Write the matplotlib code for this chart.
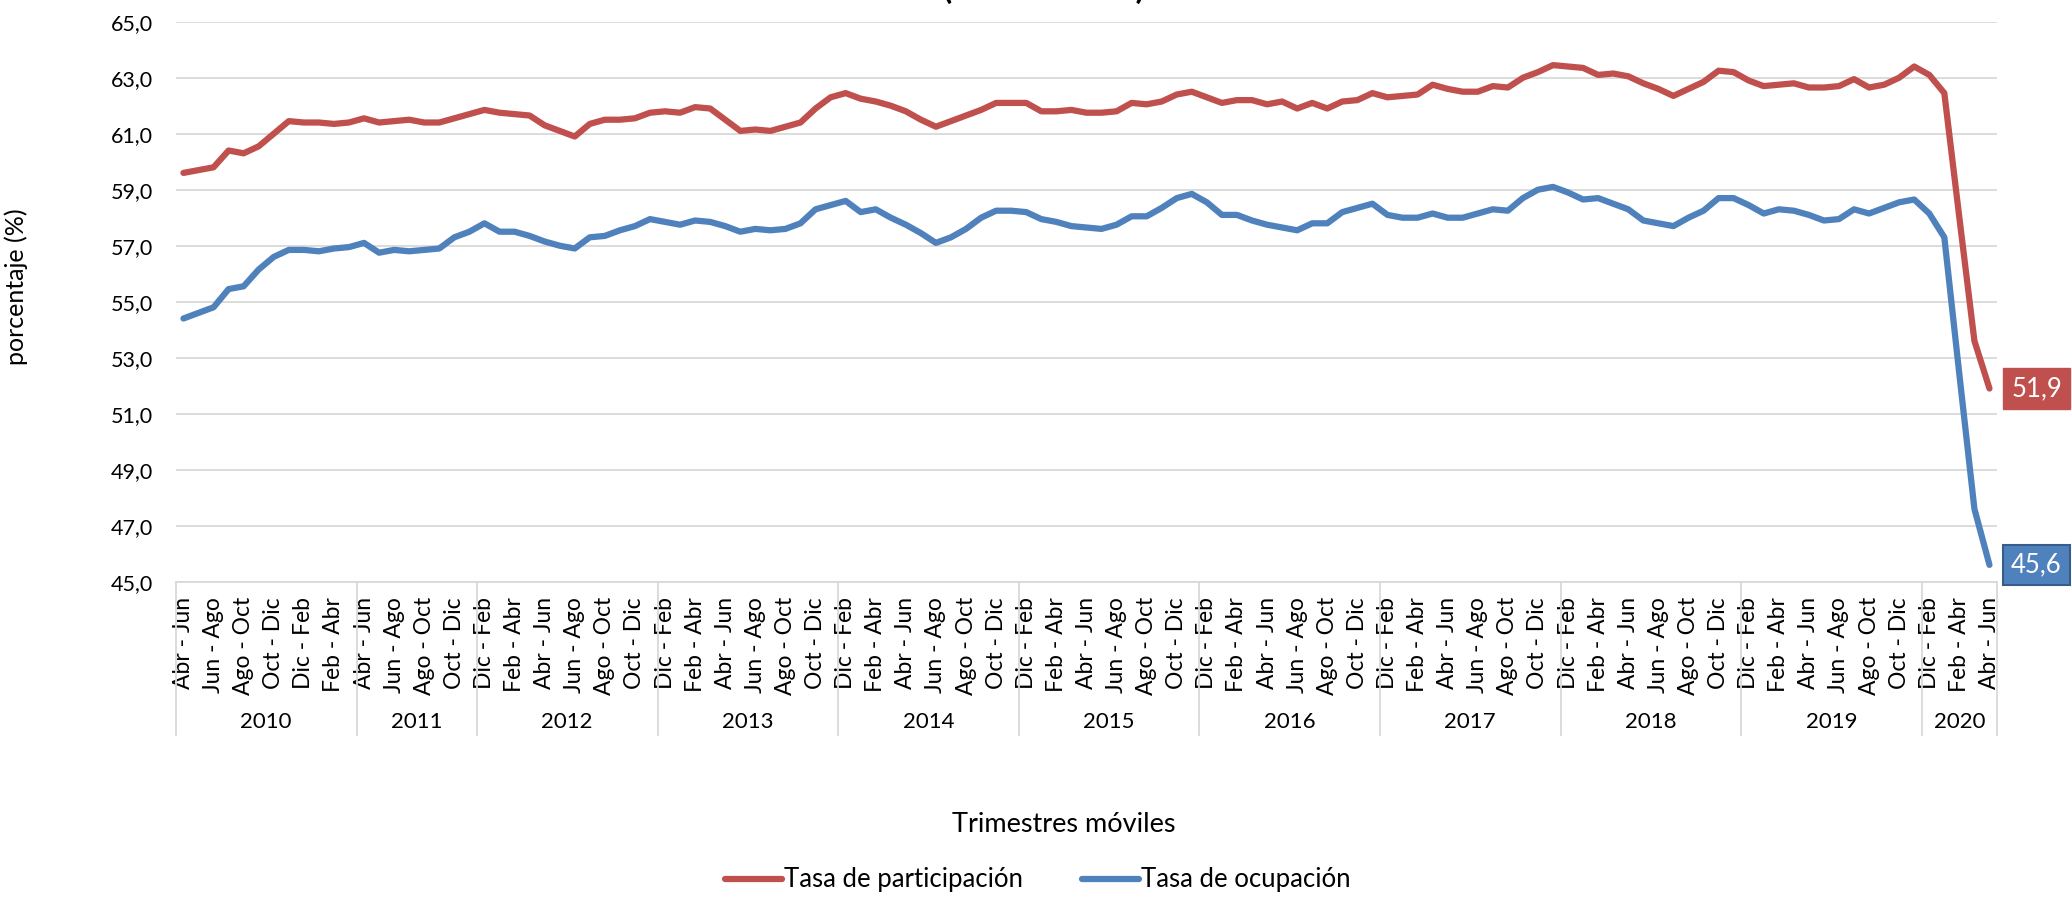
import numpy as np
import matplotlib.pyplot as plt
import matplotlib.transforms as mtransforms

plt.rcParams['font.family'] = ['Lato', 'DejaVu Sans']

# categorias del eje x
meses = ['Ene', 'Feb', 'Mar', 'Abr', 'May', 'Jun', 'Jul', 'Ago', 'Sep', 'Oct', 'Nov', 'Dic']
anios = ['2010', '2011', '2012', '2013', '2014', '2015', '2016', '2017', '2018', '2019', '2020']
meses_por_anio = [12, 8, 12, 12, 12, 12, 12, 12, 12, 12, 5]

# Tasa global de participacion (%), trimestres moviles desde Abr-Jun 2010
participacion = [
    59.6, 59.7, 59.8, 60.4, 60.3, 60.55, 61.0, 61.45, 61.4, 61.4, 61.35, 61.4,
    61.55, 61.4, 61.45, 61.5, 61.4, 61.4, 61.55, 61.7,
    61.85, 61.75, 61.7, 61.65, 61.3, 61.1, 60.9, 61.35, 61.5, 61.5, 61.55, 61.75,
    61.8, 61.75, 61.95, 61.9, 61.5, 61.1, 61.15, 61.1, 61.25, 61.4, 61.9, 62.3,
    62.45, 62.25, 62.15, 62.0, 61.8, 61.5, 61.25, 61.45, 61.65, 61.85, 62.1, 62.1,
    62.1, 61.8, 61.8, 61.85, 61.75, 61.75, 61.8, 62.1, 62.05, 62.15, 62.4, 62.5,
    62.3, 62.1, 62.2, 62.2, 62.05, 62.15, 61.9, 62.1, 61.9, 62.15, 62.2, 62.45,
    62.3, 62.35, 62.4, 62.75, 62.6, 62.5, 62.5, 62.7, 62.65, 63.0, 63.2, 63.45,
    63.4, 63.35, 63.1, 63.15, 63.05, 62.8, 62.6, 62.35, 62.6, 62.85, 63.25, 63.2,
    62.9, 62.7, 62.75, 62.8, 62.65, 62.65, 62.7, 62.95, 62.65, 62.75, 63.0, 63.4,
    63.1, 62.45, 58.0, 53.6, 51.9,
]

# Tasa de ocupacion (%)
ocupacion = [
    54.4, 54.6, 54.8, 55.45, 55.55, 56.15, 56.6, 56.85, 56.85, 56.8, 56.9, 56.95,
    57.1, 56.75, 56.85, 56.8, 56.85, 56.9, 57.3, 57.5,
    57.8, 57.5, 57.5, 57.35, 57.15, 57.0, 56.9, 57.3, 57.35, 57.55, 57.7, 57.95,
    57.85, 57.75, 57.9, 57.85, 57.7, 57.5, 57.6, 57.55, 57.6, 57.8, 58.3, 58.45,
    58.6, 58.2, 58.3, 58.0, 57.75, 57.45, 57.1, 57.3, 57.6, 58.0, 58.25, 58.25,
    58.2, 57.95, 57.85, 57.7, 57.65, 57.6, 57.75, 58.05, 58.05, 58.35, 58.7, 58.85,
    58.55, 58.1, 58.1, 57.9, 57.75, 57.65, 57.55, 57.8, 57.8, 58.2, 58.35, 58.5,
    58.1, 58.0, 58.0, 58.15, 58.0, 58.0, 58.15, 58.3, 58.25, 58.7, 59.0, 59.1,
    58.9, 58.65, 58.7, 58.5, 58.3, 57.9, 57.8, 57.7, 58.0, 58.25, 58.7, 58.7,
    58.45, 58.15, 58.3, 58.25, 58.1, 57.9, 57.95, 58.3, 58.15, 58.35, 58.55, 58.65,
    58.15, 57.3, 52.4, 47.6, 45.6,
]

n = len(participacion)
x = np.arange(n)
etiquetas = [meses[(3 + i) % 12] + ' - ' + meses[(5 + i) % 12] for i in range(n)]

rojo = '#C0504D'
azul = '#4F81BD'
gris = '#D9D9D9'

fig = plt.figure(figsize=(20.72, 9.01), dpi=100)
ax = fig.add_axes([0.0849, 0.3544, 0.8789, 0.6215])

ax.plot(x, participacion, color=rojo, lw=4.5, label='Tasa de participación',
        solid_joinstyle='round', solid_capstyle='round')
ax.plot(x, ocupacion, color=azul, lw=4.5, label='Tasa de ocupación',
        solid_joinstyle='round', solid_capstyle='round')

ax.set_xlim(-0.5, n - 0.5)
ax.set_ylim(45, 65)
yt = np.arange(45, 65.1, 2)
ax.set_yticks(yt)
ax.set_yticklabels([f'{v:.1f}'.replace('.', ',') for v in yt])
ax.grid(axis='y', color=gris, lw=1.3)
ax.set_axisbelow(True)
for s in ['top', 'right', 'left']:
    ax.spines[s].set_visible(False)
ax.spines['bottom'].set_color(gris)
ax.spines['bottom'].set_linewidth(1.3)
ax.tick_params(axis='y', length=0, pad=16.5, labelsize=15.5)

ax.set_xticks(x[::2])
ax.set_xticklabels(etiquetas[::2], rotation=90)
ax.tick_params(axis='x', length=0, pad=11, labelsize=16.5)

# segundo nivel del eje: anios
trans = mtransforms.blended_transform_factory(ax.transData, ax.transAxes)
bordes = np.concatenate([[0], np.cumsum(meses_por_anio)]) - 0.5
for b in bordes:
    ax.plot([b, b], [0, -0.274], transform=trans, color=gris, lw=1.3, clip_on=False)
for k, a in enumerate(anios):
    ax.text((bordes[k] + bordes[k + 1]) / 2, -0.2505, a, transform=trans,
            ha='center', va='center', fontsize=16)

# etiquetas del ultimo dato
ax.annotate(f'{participacion[-1]:.1f}'.replace('.', ','), xy=(x[-1], participacion[-1]),
            xytext=(15.6, 0), textcoords='offset points', ha='left', va='center',
            color='white', fontsize=18.5, annotation_clip=False,
            bbox=dict(boxstyle='square,pad=0.3', fc=rojo, ec=rojo))
ax.annotate(f'{ocupacion[-1]:.1f}'.replace('.', ','), xy=(x[-1], ocupacion[-1]),
            xytext=(15.6, 0), textcoords='offset points', ha='left', va='center',
            color='white', fontsize=18.5, annotation_clip=False,
            bbox=dict(boxstyle='square,pad=0.3', fc=azul, ec='#385D8A', lw=1.5))

ax.set_ylabel('porcentaje (%)', fontsize=18)
ax.yaxis.set_label_coords(-0.0813, 0.526)
fig.text(1064 / 2072, 1 - 824 / 901, 'Trimestres móviles', ha='center', va='center', fontsize=19.5)

# titulo cortado en el borde superior
fig.text(1044 / 2072, 1 + 1 / 901, '(2010 - 2020)', ha='center', va='baseline',
         fontsize=24, fontweight='bold')

fig.legend(loc='center', bbox_to_anchor=(1038 / 2072, 1 - 880 / 901), ncol=2,
           frameon=False, fontsize=18.5, handlelength=2.2, handletextpad=0.1,
           columnspacing=2.3)

fig.savefig('out.png', dpi=100)
